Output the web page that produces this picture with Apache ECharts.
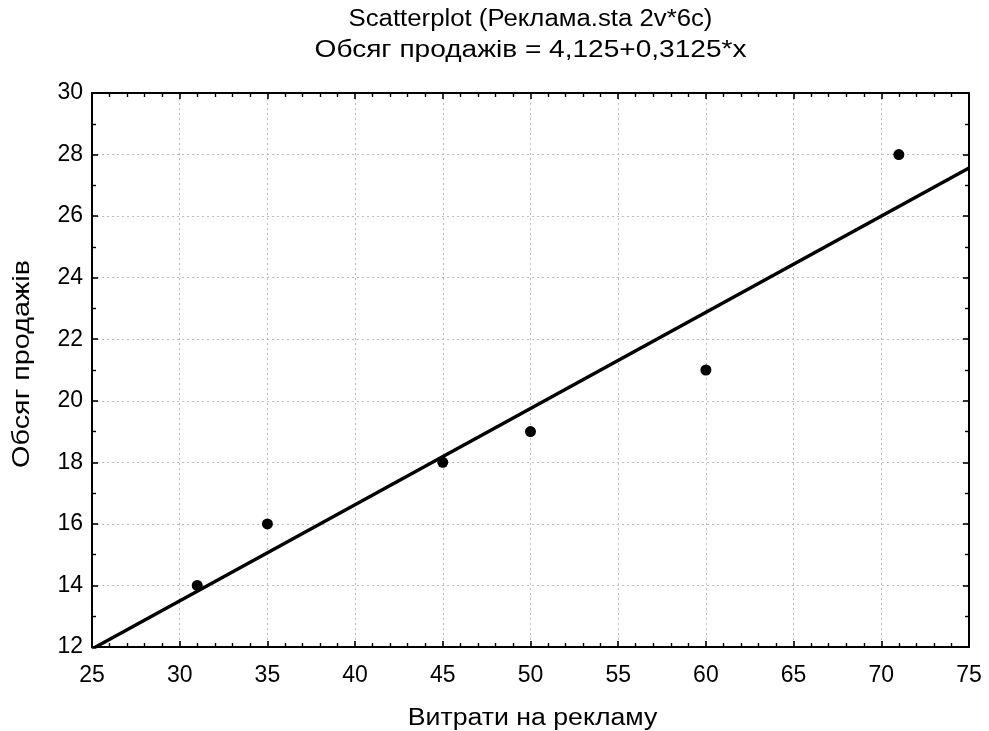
<!DOCTYPE html>
<html>
<head>
<meta charset="utf-8">
<script src="https://cdn.jsdelivr.net/npm/echarts@6/dist/echarts.min.js"></script>
<style>
  html, body { margin: 0; padding: 0; background: #fff; }
  #chart { width: 989px; height: 731px; }
</style>
</head>
<body>
<div id="chart"></div>
<script>
// Advertising spend vs. sales volume
const spend = [31, 35, 45, 50, 60, 71];
const sales = [14, 16, 18, 19, 21, 28];

// Fitted line: sales = intercept + slope * spend
const intercept = 4.125;
const slope = 0.3125;

const xRange = [25, 75];
const yRange = [12, 30];

const titleText = 'Scatterplot (Реклама.sta 2v*6c)';
const subTitleText = 'Обсяг продажів = 4,125+0,3125*x';
const xName = 'Витрати на рекламу';
const yName = 'Обсяг продажів';

const FONT = '"Liberation Sans", Arial, sans-serif';

const points = spend.map((x, i) => [x, sales[i]]);
const fitLine = xRange.map(x => [x, intercept + slope * x]);

const GRID = { left: 92, right: 20, top: 93, bottom: 84 };
const W = 989, H = 731;
const plotCx = GRID.left + (W - GRID.left - GRID.right) / 2;
const plotCy = GRID.top + (H - GRID.top - GRID.bottom) / 2;

// wide, Arial-like lettering
function label(text, x, y, size, sx, rot) {
  return {
    type: 'text', x: x, y: y, scaleX: sx, rotation: rot || 0, silent: true,
    style: {
      text: text, fill: '#000',
      font: size + 'px ' + FONT,
      textAlign: 'center', textVerticalAlign: 'middle',
      align: 'center', verticalAlign: 'middle'
    }
  };
}

const chart = echarts.init(document.getElementById('chart'));

function ticks(minorSplit) {
  return {
    axisLine: { show: true, lineStyle: { color: '#000', width: 2 } },
    axisTick: { show: true, inside: true, length: 6, lineStyle: { color: '#000', width: 1.6 } },
    minorTick: { show: true, splitNumber: minorSplit, length: 4, lineStyle: { color: '#000', width: 1.4 } }
  };
}

const dotted = { show: true, lineStyle: { color: '#bdbdbd', type: [2, 3], width: 1 } };
const tickFont = { fontFamily: FONT, fontSize: 23, color: '#000' };

chart.setOption({
  animation: false,
  backgroundColor: '#fff',
  graphic: [
    label(titleText, plotCx, 20, 23, 1.12),
    label(subTitleText, plotCx, 51, 23, 1.22),
    label(xName, plotCx + 2, 719, 23, 1.16),
    label(yName, 22, plotCy - 6, 24, 1.2, Math.PI / 2)
  ],
  grid: { left: GRID.left, right: GRID.right, top: GRID.top, bottom: GRID.bottom, containLabel: false },
  xAxis: [
    Object.assign({
      type: 'value', min: xRange[0], max: xRange[1], interval: 5, position: 'bottom',
      axisLabel: Object.assign({ margin: 17 }, tickFont),
      splitLine: dotted
    }, ticks(5)),
    Object.assign({
      type: 'value', min: xRange[0], max: xRange[1], interval: 5, position: 'top',
      axisLabel: { show: false }, splitLine: { show: false }
    }, ticks(5))
  ],
  yAxis: [
    Object.assign({
      type: 'value', min: yRange[0], max: yRange[1], interval: 2, position: 'left',
      axisLabel: Object.assign({ margin: 9 }, tickFont),
      splitLine: dotted
    }, ticks(2)),
    Object.assign({
      type: 'value', min: yRange[0], max: yRange[1], interval: 2, position: 'right',
      axisLabel: { show: false }, splitLine: { show: false }
    }, ticks(2))
  ],
  series: [
    {
      type: 'line', data: fitLine, showSymbol: false, symbol: 'none',
      lineStyle: { color: '#000', width: 3.5 }, clip: true, z: 2
    },
    {
      type: 'scatter', data: points, symbol: 'circle', symbolSize: 11,
      itemStyle: { color: '#000', opacity: 1 }, z: 3
    }
  ]
});
</script>
</body>
</html>
